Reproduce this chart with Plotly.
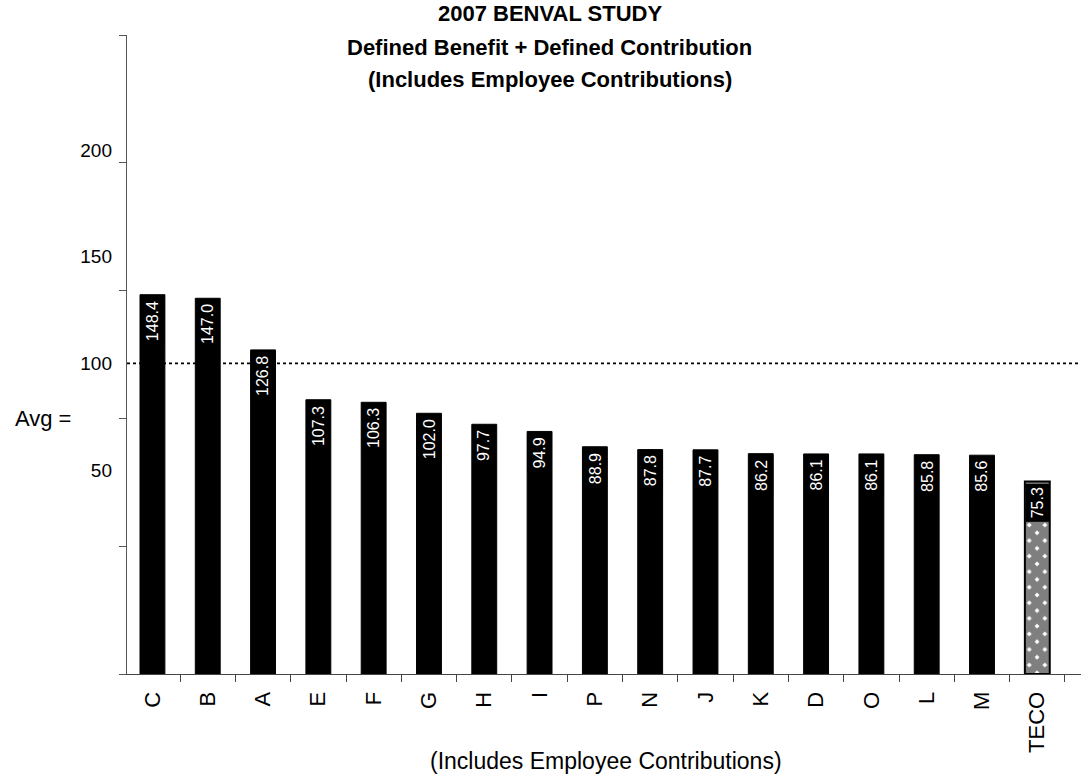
import plotly.graph_objects as go

# Company codes, ordered as ranked in the study
companies = ["C", "B", "A", "E", "F", "G", "H", "I", "P", "N", "J", "K",
             "D", "O", "L", "M", "TECO"]
# Relative value index (DB + DC, including employee contributions)
values = [148.4, 147.0, 126.8, 107.3, 106.3, 102.0, 97.7, 94.9, 88.9, 87.8,
          87.7, 86.2, 86.1, 86.1, 85.8, 85.6, 75.3]
# Left-hand scale labels
scale_labels = [50, 100, 150, 200]

avg = round(sum(values) / len(values), 1)

FONT = "Arial, Liberation Sans, Helvetica, sans-serif"
highlight = "TECO"

peers = [(c, v) for c, v in zip(companies, values) if c != highlight]
own = [(c, v) for c, v in zip(companies, values) if c == highlight]

fig = go.Figure()

fig.add_trace(go.Bar(
    x=[c for c, _ in peers],
    y=[v for _, v in peers],
    marker=dict(color="black", line=dict(color="black", width=1)),
    width=0.45,
    hoverinfo="x+y",
    showlegend=False,
))

fig.add_trace(go.Bar(
    x=[c for c, _ in own],
    y=[v for _, v in own],
    marker=dict(
        color="white",
        line=dict(color="black", width=2),
        pattern=dict(shape="x", fgcolor="black", bgcolor="white",
                     size=11, solidity=0.9),
    ),
    width=0.45,
    hoverinfo="x+y",
    showlegend=False,
))

# invisible companion trace that carries the labelled scale on y2
fig.add_trace(go.Scatter(
    x=[companies[0]], y=[avg], yaxis="y2", mode="markers",
    marker=dict(opacity=0), hoverinfo="skip", showlegend=False,
))

# value labels: white text on black tabs at the top of every bar
for c, v in zip(companies, values):
    fig.add_annotation(
        x=c, y=v, xref="x", yref="y",
        text=f"{v:.1f}", textangle=-90, showarrow=False,
        xanchor="center", yanchor="top", yshift=-2,
        font=dict(family=FONT, size=16, color="white"),
        bgcolor="black", borderpad=3,
    )

# average line
fig.add_shape(type="line", xref="paper", yref="y2", x0=0, x1=1,
              y0=avg, y1=avg,
              line=dict(color="black", width=1.8, dash="dot"))

fig.add_annotation(
    xref="paper", yref="y", x=0, y=avg, xanchor="right", yanchor="middle",
    xshift=-54, text="Avg =", showarrow=False,
    font=dict(family=FONT, size=22, color="black"),
)

# three-line heading
title_lines = ["2007 BENVAL STUDY",
               "Defined Benefit + Defined Contribution",
               "(Includes Employee Contributions)"]
for line, ypos in zip(title_lines, [1.0344, 0.981, 0.931]):
    fig.add_annotation(
        xref="paper", yref="paper", x=0.443, y=ypos,
        xanchor="center", yanchor="middle", text=f"<b>{line}</b>",
        showarrow=False, font=dict(family=FONT, size=22, color="black"),
    )

fig.add_annotation(
    xref="paper", yref="paper", x=0.502, y=-0.136,
    xanchor="center", yanchor="middle",
    text="(Includes Employee Contributions)", showarrow=False,
    font=dict(family=FONT, size=23, color="black"),
)

fig.update_layout(
    width=1081, height=780,
    margin=dict(l=127, r=0, t=35, b=106),
    paper_bgcolor="white", plot_bgcolor="white",
    font=dict(family=FONT, color="black"),
    xaxis=dict(
        type="category",
        categoryorder="array", categoryarray=companies,
        range=[-0.46, 16.79],
        showline=True, linecolor="#444", linewidth=1,
        tickson="boundaries", ticks="outside", ticklen=7,
        tickcolor="#444", tickwidth=1,
        tickangle=-90, tickfont=dict(family=FONT, size=22),
        ticklabelstandoff=8,
        showgrid=False, zeroline=False,
    ),
    yaxis=dict(
        range=[0, 250], dtick=50,
        showline=True, linecolor="#555", linewidth=1,
        ticks="outside", ticklen=7, tickcolor="#555",
        showticklabels=False, showgrid=False, zeroline=False,
    ),
    yaxis2=dict(
        overlaying="y", side="left",
        range=[-45.6, 253.9],
        tickvals=scale_labels, ticktext=[str(s) for s in scale_labels],
        tickfont=dict(family=FONT, size=19),
        ticks="", ticklabelstandoff=14,
        showline=False, showgrid=False, zeroline=False,
    ),
    bargap=0.55,
    barmode="overlay",
)

fig.write_html("out.html")
